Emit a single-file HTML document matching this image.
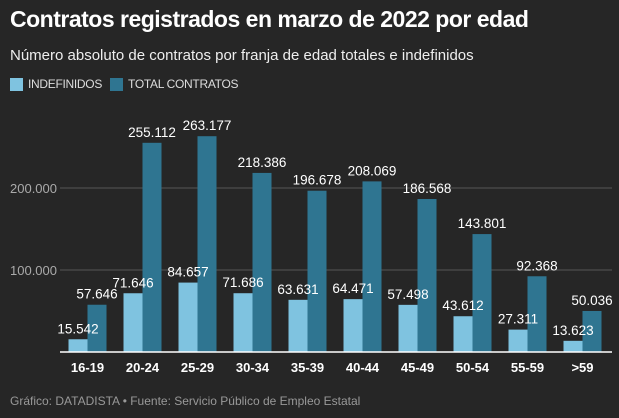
<!DOCTYPE html>
<html><head><meta charset="utf-8"><style>
body{margin:0;background:#262626;width:619px;height:418px;overflow:hidden;font-family:"Liberation Sans",Arial,sans-serif;color:#fff}
.t{position:absolute;left:10px;top:6px;font-size:23px;font-weight:bold;letter-spacing:-0.5px}
.s{position:absolute;left:10px;top:47px;font-size:15px;color:#eee}
.lg{position:absolute;top:77px;font-size:12px;letter-spacing:-0.3px;color:#ddd;display:flex;align-items:center}
.sw{width:13px;height:13px;margin-right:5px}
.f{position:absolute;left:10px;top:394px;font-size:12px;color:#999}
svg{position:absolute;left:0;top:0}
</style></head><body>
<div class="t">Contratos registrados en marzo de 2022 por edad</div>
<div class="s">Número absoluto de contratos por franja de edad totales e indefinidos</div>
<div class="lg" style="left:10px"><div class="sw" style="background:#7fc3e0"></div>INDEFINIDOS</div>
<div class="lg" style="left:110px"><div class="sw" style="background:#2f7591"></div>TOTAL CONTRATOS</div>
<svg width="619" height="418" id="c"></svg>
<div class="f">Gráfico: DATADISTA • Fuente: Servicio Público de Empleo Estatal</div>
<script>
const categories=["16-19","20-24","25-29","30-34","35-39","40-44","45-49","50-54","55-59",">59"];
const indefinidos=[15542,71646,84657,71686,63631,64471,57498,43612,27311,13623];
const totales=[57646,255112,263177,218386,196678,208069,186568,143801,92368,50036];
const ticks=[100000,200000];
const NS="http://www.w3.org/2000/svg",svg=document.getElementById('c');
const x0=60,bw=55,y0=352,ppu=82/100000;
const y=v=>y0-v*ppu;
const fmt=v=>v.toLocaleString('de-DE');
function el(tag,a,txt){const e=document.createElementNS(NS,tag);for(const k in a)e.setAttribute(k,a[k]);if(txt!=null)e.textContent=txt;svg.appendChild(e);return e;}
ticks.forEach(t=>{
const g=el('line',{x1:x0,x2:612,y1:y(t),y2:y(t),stroke:'#555','stroke-width':1});


const l=el('text',{x:57,y:y(t)+5,'text-anchor':'end',fill:'#aaa','font-size':13},fmt(t));


});
categories.forEach((c,i)=>{
const cx=x0+bw*i+bw/2;
const b1=el('rect',{x:cx-19,y:y(indefinidos[i]),width:19,height:indefinidos[i]*ppu,fill:'#7fc3e0'});


const b2=el('rect',{x:cx,y:y(totales[i]),width:19,height:totales[i]*ppu,fill:'#2f7591'});


const v1=el('text',{x:cx-9.5,y:y(indefinidos[i])-6,'text-anchor':'middle',fill:'#fff','font-size':13.5},fmt(indefinidos[i]));


const v2=el('text',{x:cx+9.5,y:y(totales[i])-6,'text-anchor':'middle',fill:'#fff','font-size':13.5},fmt(totales[i]));


const xl=el('text',{x:cx,y:372,'text-anchor':'middle',fill:'#fff','font-size':13,'font-weight':'bold'},c);


});
const ax=el('line',{x1:x0,x2:612,y1:y0,y2:y0,stroke:'#fff','stroke-width':1.5});


</script>
</body></html>
